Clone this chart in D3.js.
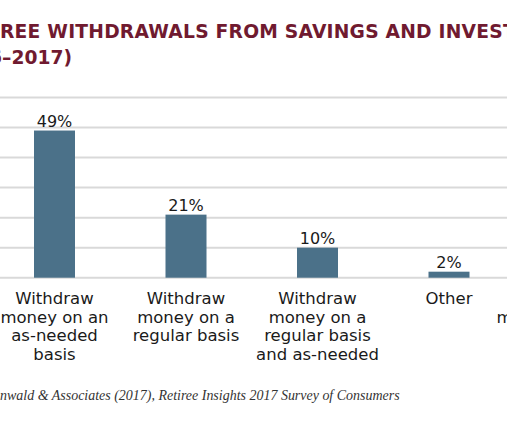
<!DOCTYPE html>
<html><head><meta charset="utf-8">
<script src="https://cdn.jsdelivr.net/npm/d3@7"></script>
<style>
html,body{margin:0;padding:0;background:#fff;overflow:hidden;}
svg{display:block;}
</style></head>
<body>
<svg id="chart" width="507" height="423"></svg>
<script>
const categories = [
  "Withdraw money on an as-needed basis",
  "Withdraw money on a regular basis",
  "Withdraw money on a regular basis and as-needed",
  "Other",
  "Did not withdraw money from savings"
];
const categoryLines = [
  ["Withdraw", "money on an", "as-needed", "basis"],
  ["Withdraw", "money on a", "regular basis"],
  ["Withdraw", "money on a", "regular basis", "and as-needed"],
  ["Other"],
  ["Did not withdraw", "money from savings"]
];
const values = [49, 21, 10, 2, 18];
const yTicks = [0, 10, 20, 30, 40, 50, 60];
const titleLine1 = "RETIREE WITHDRAWALS FROM SAVINGS AND INVESTMENTS";
const titleLine2 = "(2016–2017)";
const sourceText = "Source: Greenwald & Associates (2017), Retiree Insights 2017 Survey of Consumers";

const svg = d3.select("#chart");
const W = 507, H = 423;
svg.append("rect").attr("width", W).attr("height", H).attr("fill", "#fff");

const step = 131.5;
const x0 = 54.5 - step / 2;
const x = d3.scaleBand().domain(categories).range([x0, x0 + step * categories.length])
  .paddingInner(1 - 41 / step).paddingOuter((1 - 41 / step) / 2);
const y = d3.scaleLinear().domain([0, 60]).range([277.7, 97.5]);

const titleColor = "#701a30";
const titleSize = 18.7;
// title line 1: fit "REE ... INVES" into visible width
const t1 = svg.append("text").attr("y", 37.5)
  .attr("font-family", "'DejaVu Sans', sans-serif").attr("font-weight", "bold")
  .attr("font-size", titleSize).attr("fill", titleColor).text(titleLine1);
{
  const n = 38; // chars "REE WITHDRAWALS FROM SAVINGS AND INVES"
  const len = t1.node().getSubStringLength(4, n);
  const ls = (503 - len) / n;
  t1.attr("letter-spacing", ls);
  const off = t1.node().getSubStringLength(0, 4);
  t1.attr("x", -off);
}
const t2 = svg.append("text").attr("y", 64).attr("x", 72).attr("text-anchor", "end")
  .attr("font-family", "'DejaVu Sans', sans-serif").attr("font-weight", "bold")
  .attr("font-size", titleSize).attr("fill", titleColor).text(titleLine2);

// gridlines
svg.append("g").selectAll("line").data(yTicks).join("line")
  .attr("x1", 0).attr("x2", W)
  .attr("y1", d => y(d)).attr("y2", d => y(d))
  .attr("stroke", "#d9d9d9").attr("stroke-width", 2);

// bars
svg.append("g").selectAll("rect").data(values).join("rect")
  .attr("x", (d, i) => x(categories[i]))
  .attr("width", x.bandwidth())
  .attr("y", d => y(d))
  .attr("height", d => y(0) - y(d))
  .attr("fill", "#4b7189");

// value labels
svg.append("g").selectAll("text").data(values).join("text")
  .attr("x", (d, i) => x(categories[i]) + x.bandwidth() / 2)
  .attr("y", d => y(d) - 4)
  .attr("text-anchor", "middle")
  .attr("font-family", "'DejaVu Sans', sans-serif")
  .attr("font-size", 16).attr("fill", "#1a1a1a")
  .text(d => d + "%");

// category labels
const cl = svg.append("g").selectAll("text").data(categories).join("text")
  .attr("text-anchor", "middle")
  .attr("font-family", "'DejaVu Sans', sans-serif")
  .attr("font-size", 16.5).attr("fill", "#1a1a1a");
cl.each(function(c, i) {
  const cx = x(c) + x.bandwidth() / 2;
  d3.select(this).selectAll("tspan").data(categoryLines[i]).join("tspan")
    .attr("x", cx).attr("y", (d, j) => 304 + j * 18.5).text(d => d);
});

// source: fit so visible part spans 0..400
const s = svg.append("text").attr("y", 400)
  .attr("font-family", "'Liberation Serif', serif").attr("font-style", "italic")
  .attr("font-size", 13).attr("fill", "#333").text(sourceText);
{
  const full = s.node().getComputedTextLength();
  const pre = s.node().getSubStringLength(0, 12);
  const fs = 13 * 400 / (full - pre);
  s.attr("font-size", fs);
  s.attr("x", -s.node().getSubStringLength(0, 12));
}
</script>
</body></html>
